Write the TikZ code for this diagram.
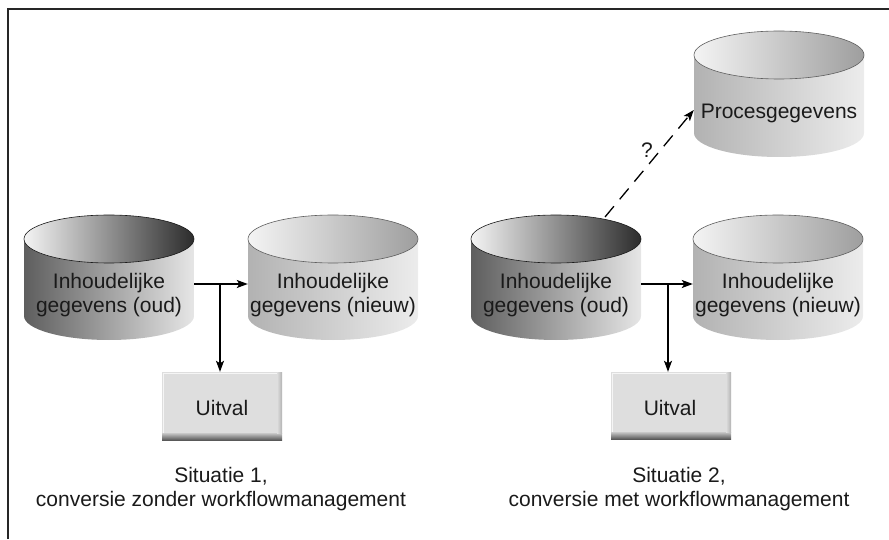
\documentclass[tikz,border=0pt]{standalone}
\usepackage{fontspec}
\setmainfont{Liberation Sans}
\usetikzlibrary{arrows.meta,calc}
\definecolor{txt}{HTML}{1A1A1A}
\definecolor{oldbodyL}{HTML}{5E5E5E}
\definecolor{oldbodyR}{HTML}{E6E6E6}
\definecolor{oldtopL}{HTML}{F4F4F4}
\definecolor{oldtopR}{HTML}{2C2C2C}
\definecolor{newbodyL}{HTML}{B2B2B2}
\definecolor{newbodyR}{HTML}{ECECEC}
\definecolor{newtopL}{HTML}{F4F4F4}
\definecolor{newtopR}{HTML}{9E9E9E}
\definecolor{boxfill}{HTML}{DEDEDE}
\newcommand\mycyl[7]{%
  \shade[left color=#4,right color=#5] (#1-85,#2) -- (#1-85,#3)
    arc[start angle=180,end angle=360,x radius=85,y radius=24] -- (#1+85,#2) -- cycle;
  \shade[left color=#6,right color=#7] (#1,#2) ellipse [x radius=85,y radius=24];
  \draw[draw=#7!60!black,line width=0.6pt] (#1,#2) ellipse [x radius=85,y radius=24];
}
\newcommand\mybox[4]{% x1 y1 x2 y2 (bottom-left, top-right)
  \fill[boxfill] (#1,#2) rectangle (#3,#4);
  \shade[top color=boxfill!90!black,bottom color=black!65] (#1,#2) rectangle (#3,#2+7);
  \shade[left color=boxfill,right color=black!30] (#3-5,#2+7) rectangle (#3,#4);
  \draw[white!70!boxfill,line width=0.8pt] (#1+1,#2+7) -- (#1+1,#4-1) -- (#3-5,#4-1);
}
\begin{document}
\begin{tikzpicture}[x=1pt,y=1pt,
  font=\fontsize{21}{24}\selectfont,
  anchorbox/.style={inner sep=0pt,minimum width=170pt,minimum height=112pt,draw=none},
  boxanchor/.style={inner sep=0pt,minimum width=120pt,minimum height=68pt,draw=none},
  lbl/.style={align=center,text=txt,inner sep=0pt},
  arr/.style={draw=black,line width=1.3pt,-{Stealth[length=11pt,width=8pt,inset=2.5pt]}},
  dasharr/.style={arr,dash pattern=on 14pt off 9pt}]
\useasboundingbox (0,0) rectangle (889,539);
% frame
\draw[line width=1.6pt,black!85] (8,0) -- (8,530) -- (889,530);

% ---------- Situatie 1 ----------
\mycyl{109}{300}{223}{oldbodyL}{oldbodyR}{oldtopL}{oldtopR}
\mycyl{333}{300}{223}{newbodyL}{newbodyR}{newtopL}{newtopR}
\node[anchorbox] (oldL) at (109,255) {};
\node[anchorbox] (newL) at (333,255) {};
\node[lbl] (oldLt) at (109,244) {Inhoudelijke\\gegevens (oud)};
\node[lbl] (newLt) at (333,244) {Inhoudelijke\\gegevens (nieuw)};
\mybox{162}{99}{282}{167}
\node[boxanchor] (uitL) at (220,133) {};
\node[lbl] (uitLt) at (222,131) {Uitval};
\draw[arr] (oldL.east) -- (newL.west);
\draw[arr] (oldL.east -| uitL.north) -- (uitL.north);
\node[lbl] (cap1) at (221,50) {Situatie 1,\\conversie zonder workflowmanagement};

% ---------- Situatie 2 ----------
\mycyl{779}{484}{406}{newbodyL}{newbodyR}{newtopL}{newtopR}
\mycyl{556}{300}{223}{oldbodyL}{oldbodyR}{oldtopL}{oldtopR}
\mycyl{778}{300}{223}{newbodyL}{newbodyR}{newtopL}{newtopR}
\node[anchorbox] (prA) at (779,429) {};
\node[lbl] (prAt) at (779,426) {Procesgegevens};
\node[anchorbox] (oldR) at (556,255) {};
\node[anchorbox] (newR) at (778,255) {};
\node[lbl] (oldRt) at (556,244) {Inhoudelijke\\gegevens (oud)};
\node[lbl] (newRt) at (778,244) {Inhoudelijke\\gegevens (nieuw)};
\mybox{611}{100}{731}{167}
\node[boxanchor] (uitR) at (668,133) {};
\node[lbl] (uitRt) at (670,131) {Uitval};
\draw[arr] (oldR.east) -- (newR.west);
\draw[arr] (oldR.east -| uitR.north) -- (uitR.north);
\coordinate (qstart) at (605,322);
\draw[dasharr] (qstart) -- (prA.west);
\node[lbl] (q) at (647,389) {?};
\node[lbl] (cap2) at (679,50) {Situatie 2,\\conversie met workflowmanagement};
\end{tikzpicture}
\end{document}
